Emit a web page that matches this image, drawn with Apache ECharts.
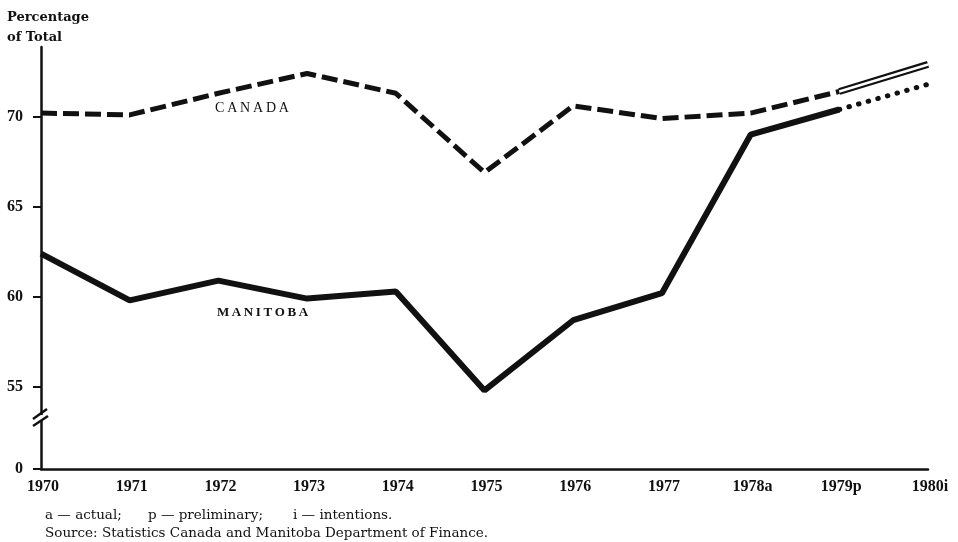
<!DOCTYPE html>
<html>
<head>
<meta charset="utf-8">
<script src="https://cdn.jsdelivr.net/npm/echarts@6/dist/echarts.min.js"></script>
<style>
  html, body { margin: 0; padding: 0; background: #fff; }
  #chart { width: 958px; height: 542px; }
</style>
</head>
<body>
<div id="chart"></div>
<script>
// years, a = actual, p = preliminary, i = intentions
const years = ['1970', '1971', '1972', '1973', '1974', '1975', '1976', '1977', '1978a', '1979p', '1980i']
// percentage of total
const canada = [70.2, 70.1, 71.3, 72.4, 71.3, 66.9, 70.6, 69.9, 70.2, 71.4, 72.9]
const manitoba = [62.4, 59.8, 60.9, 59.9, 60.3, 54.8, 58.7, 60.2, 69.0, 70.4, 71.8]
// y ticks, the bottom one is the broken "0"
const yBottom = 50.44
const yTicks = [yBottom, 55, 60, 65, 70]

const INK = '#111'
const SERIF = '"Liberation Serif", "Times New Roman", serif'
const WIDE = '"DejaVu Serif", serif'

// split: solid/dashed up to 1979p, 1980i drawn differently
const lastActual = years.length - 2
const actualPart = arr => arr.map((v, i) => (i <= lastActual ? v : null))
const intentPart = arr => arr.map((v, i) => (i >= lastActual ? v : null))

const chart = echarts.init(document.getElementById('chart'))

const option = {
  animation: false,
  backgroundColor: '#fff',
  title: {
    text: 'Percentage\nof Total',
    left: 7,
    top: 8,
    padding: 0,
    textStyle: { fontFamily: WIDE, fontSize: 13, fontWeight: 'bold', color: INK, lineHeight: 20 }
  },
  grid: { left: 41, right: 30, top: 47, bottom: 73 },
  xAxis: {
    type: 'category',
    data: years,
    boundaryGap: false,
    axisLine: { lineStyle: { color: INK, width: 2.5 } },
    axisTick: { show: false },
    axisLabel: { color: INK, fontFamily: SERIF, fontSize: 16, fontWeight: 'bold', margin: 10, padding: [0, 0, 0, 4] },
    splitLine: { show: false }
  },
  yAxis: {
    type: 'value',
    min: yBottom,
    max: 73.87,
    axisLine: { show: true, lineStyle: { color: INK, width: 2.5 } },
    axisTick: { show: true, length: 8, customValues: yTicks, lineStyle: { color: INK, width: 2 } },
    axisLabel: {
      customValues: yTicks,
      color: INK,
      fontFamily: SERIF,
      fontSize: 16,
      fontWeight: 'bold',
      margin: 18,
      formatter: v => (v < 54 ? '0' : String(v))
    },
    splitLine: { show: false }
  },
  series: [
    {
      name: 'Canada',
      type: 'line',
      data: actualPart(canada),
      symbol: 'none',
      lineStyle: { color: INK, width: 5, type: [16, 6] }
    },
    {
      // double line for 1980 intentions: black band with white core
      name: 'Canada i',
      type: 'line',
      data: intentPart(canada),
      symbol: 'none',
      lineStyle: { color: INK, width: 7 }
    },
    {
      name: 'Canada i core',
      type: 'line',
      data: intentPart(canada),
      symbol: 'none',
      lineStyle: { color: '#fff', width: 2.5 }
    },
    {
      name: 'Manitoba',
      type: 'line',
      data: actualPart(manitoba),
      symbol: 'none',
      lineStyle: { color: INK, width: 6 }
    },
    {
      name: 'Manitoba i',
      type: 'line',
      data: intentPart(manitoba),
      symbol: 'none',
      lineStyle: { color: INK, width: 5, type: [0.5, 9.5], cap: 'round' }
    }
  ]
}

chart.setOption(option)

// axis break mark + labels
const brk = chart.convertToPixel({ gridIndex: 0 }, [0, 53.27])
const bx = brk[0] - 1
const by = brk[1]
const foot = '13.5px ' + WIDE
chart.setOption({
  graphic: [
    { type: 'rect', shape: { x: bx - 4, y: by - 3, width: 8, height: 6 }, style: { fill: '#fff' }, z: 100 },
    { type: 'line', shape: { x1: bx - 7, y1: by + 1, x2: bx + 7, y2: by - 9 }, style: { stroke: INK, lineWidth: 2.5 }, z: 101 },
    { type: 'line', shape: { x1: bx - 7, y1: by + 8, x2: bx + 8, y2: by - 2 }, style: { stroke: INK, lineWidth: 2.5 }, z: 101 },
    {
      type: 'text', left: 215, top: 101, z: 100,
      style: { text: 'C\u2009A\u2009N\u2009A\u2009D\u2009A', fill: INK, font: '14px ' + SERIF }
    },
    {
      type: 'text', left: 217, top: 306, z: 100,
      style: { text: 'M\u2009A\u2009N\u2009I\u2009T\u2009O\u2009B\u2009A', fill: INK, font: 'bold 13px ' + SERIF }
    },
    { type: 'text', left: 45, top: 508, z: 100, style: { text: 'a \u2014 actual;', fill: INK, font: foot } },
    { type: 'text', left: 148, top: 508, z: 100, style: { text: 'p \u2014 preliminary;', fill: INK, font: foot } },
    { type: 'text', left: 293, top: 508, z: 100, style: { text: 'i \u2014 intentions.', fill: INK, font: foot } },
    {
      type: 'text', left: 45, top: 526, z: 100,
      style: { text: 'Source: Statistics Canada and Manitoba Department of Finance.', fill: INK, font: foot }
    }
  ]
})

window.addEventListener('resize', function () {
  chart.resize()
})
</script>
</body>
</html>
